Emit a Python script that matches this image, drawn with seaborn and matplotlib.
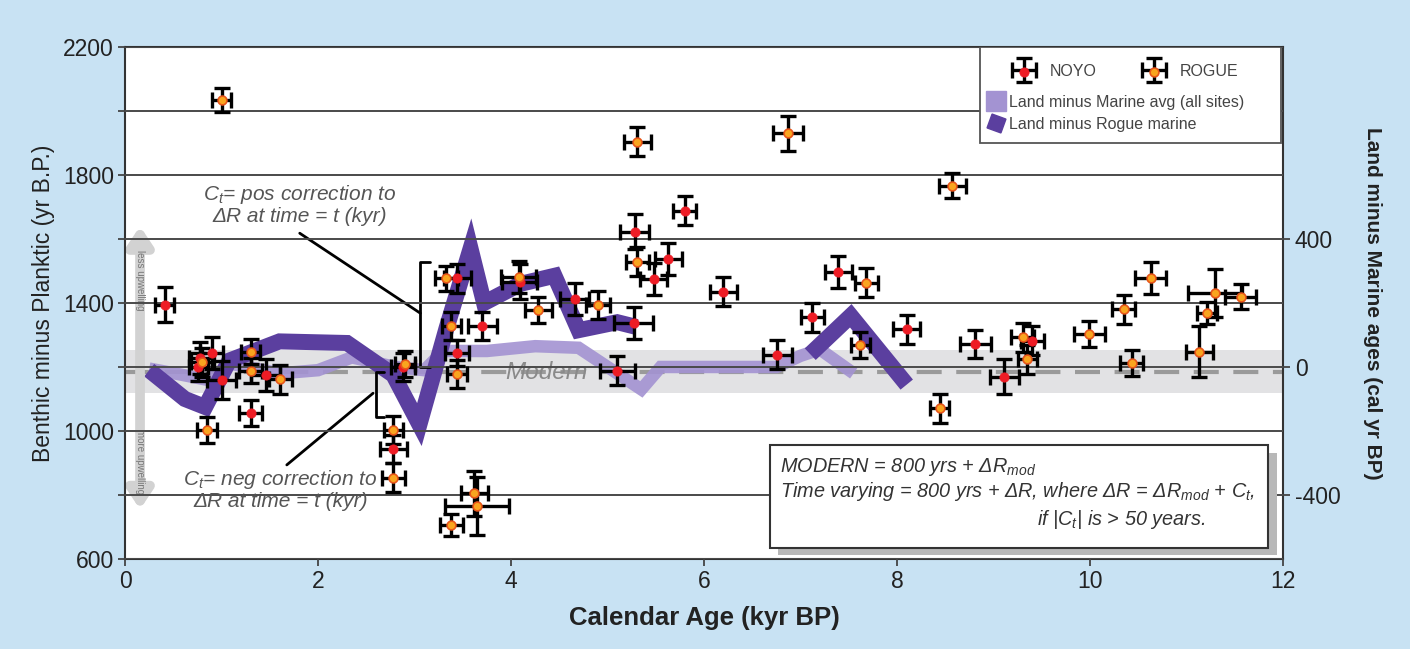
import numpy as np
import pandas as pd
import matplotlib
matplotlib.use("Agg")
import matplotlib.pyplot as plt
import seaborn as sns
from matplotlib.lines import Line2D
from matplotlib.patches import Rectangle
from matplotlib.container import ErrorbarContainer
from matplotlib.legend_handler import HandlerErrorbar
from matplotlib.ticker import MultipleLocator, FuncFormatter

# ---- data ----
# NOYO (red) : calendar age (kyr BP), benthic minus planktic (yr), errors
NOYO_AGE = [0.41, 0.78, 0.76, 0.90, 1.00, 1.30, 1.46, 2.88, 2.78, 3.44, 3.70, 3.44, 4.09, 4.66,
            5.27, 5.10, 5.28, 5.48, 5.63, 5.80, 6.20, 7.39, 7.12, 6.76, 8.10, 8.81, 9.11, 9.40]
NOYO_DIFF = [1395, 1228, 1200, 1244, 1159, 1057, 1175, 1200, 944, 1477, 1328, 1243, 1467, 1412,
             1337, 1189, 1623, 1474, 1537, 1688, 1435, 1498, 1355, 1238, 1318, 1272, 1170, 1282]
NOYO_XERR = [0.10, 0.12, 0.10, 0.12, 0.15, 0.12, 0.15, 0.12, 0.14, 0.14, 0.15, 0.12, 0.18, 0.15,
             0.20, 0.18, 0.15, 0.14, 0.14, 0.12, 0.14, 0.14, 0.12, 0.15, 0.14, 0.16, 0.15, 0.12]
NOYO_YERR = [55, 50, 45, 50, 60, 40, 50, 45, 45, 45, 45, 40, 55, 50,
             50, 45, 55, 50, 50, 45, 45, 50, 45, 45, 45, 45, 55, 45]

# ROGUE (orange)
ROGUE_AGE = [1.00, 0.85, 0.80, 1.30, 1.30, 1.61, 2.78, 2.78, 2.90, 3.33, 3.38, 3.44, 4.08, 4.28,
             4.90, 5.31, 5.31, 6.87, 3.62, 3.65, 3.38, 8.57, 7.68, 7.62, 8.44, 9.30, 9.35, 9.99,
             10.35, 10.63, 10.43, 11.29, 11.56, 11.21, 11.13]
ROGUE_DIFF = [2034, 1003, 1215, 1248, 1189, 1162, 1003, 854, 1210, 1477, 1328, 1178, 1482, 1378,
              1394, 1529, 1904, 1930, 805, 766, 706, 1767, 1464, 1269, 1071, 1293, 1224, 1303,
              1380, 1479, 1213, 1432, 1420, 1368, 1248]
ROGUE_XERR = [0.10, 0.10, 0.12, 0.10, 0.12, 0.12, 0.10, 0.12, 0.10, 0.12, 0.10, 0.10, 0.18, 0.14,
              0.12, 0.12, 0.14, 0.16, 0.14, 0.33, 0.12, 0.14, 0.12, 0.10, 0.10, 0.12, 0.10, 0.16,
              0.12, 0.16, 0.12, 0.28, 0.16, 0.10, 0.14]
ROGUE_YERR = [37, 40, 45, 40, 40, 45, 45, 45, 40, 40, 45, 45, 50, 40,
              45, 45, 45, 55, 70, 90, 35, 40, 45, 40, 45, 45, 45, 40,
              45, 50, 40, 75, 40, 35, 80]

# land minus marine ages (right axis, cal yr BP)
AVG_AGE = [0.25, 0.60, 0.85, 1.10, 1.60, 2.00, 2.35, 2.80, 3.10, 3.30, 3.75, 4.25, 4.70, 5.35,
           5.55, 6.75, 7.00, 7.20, 7.55]
AVG_DIFF = [-5, -25, -40, 10, -20, -10, 30, 0, -10, 50, 50, 65, 60, -70, 0, 0, 35, 55, -20]

ROGUE_LINE_AGE = [0.25, 0.62, 0.83, 1.08, 1.60, 2.30, 2.78, 3.05, 3.33, 3.58, 3.72, 4.10, 4.45,
                  4.70, 5.10, 5.30]
ROGUE_LINE_DIFF = [-10, -100, -125, 20, 80, 75, -25, -180, 120, 370, 200, 260, 285, 115, 140, 125]
ROGUE_LINE2_AGE = [7.10, 7.52, 8.10]
ROGUE_LINE2_DIFF = [40, 160, -55]

MODERN = 1185
MODERN_BAND = (1118, 1253)
RIGHT_OFFSET = 1200  # right axis = left axis - 1200

# colours
BG = "#c8e2f3"
RED = "#ee1c25"
ORANGE = "#f9a51f"
DARK_PURPLE = "#5b3f9f"
LIGHT_PURPLE = "#a393d2"
TXT = "#222222"

sns.set_theme(style="white")
plt.rcParams["font.family"] = ["Liberation Sans", "DejaVu Sans"]
plt.rcParams["mathtext.fontset"] = "custom"
plt.rcParams["mathtext.it"] = "Liberation Sans:italic"
plt.rcParams["mathtext.rm"] = "Liberation Sans"
plt.rcParams["axes.unicode_minus"] = False

fig = plt.figure(figsize=(14.1, 6.49), dpi=100, facecolor=BG)
ax = fig.add_axes([0.0887, 0.1387, 0.8213, 0.7889])
ax.set_facecolor("white")

# modern band + dashed line
ax.axhspan(*MODERN_BAND, color="#e2e2e4", zorder=0.5, lw=0)
ax.axhline(MODERN, color="#9a9a9a", lw=3, dashes=(6, 3.5), zorder=0.6)

# purple lines (plotted in left-axis units)
avg_df = pd.DataFrame({"age": AVG_AGE, "diff": np.array(AVG_DIFF) + RIGHT_OFFSET})
rog_df = pd.DataFrame({"age": ROGUE_LINE_AGE, "diff": np.array(ROGUE_LINE_DIFF) + RIGHT_OFFSET})
rog2_df = pd.DataFrame({"age": ROGUE_LINE2_AGE, "diff": np.array(ROGUE_LINE2_DIFF) + RIGHT_OFFSET})
sns.lineplot(data=avg_df, x="age", y="diff", ax=ax, color=LIGHT_PURPLE, lw=9, alpha=0.9,
             sort=False, zorder=1, solid_joinstyle="miter", solid_capstyle="butt")
for d in (rog_df, rog2_df):
    sns.lineplot(data=d, x="age", y="diff", ax=ax, color=DARK_PURPLE, lw=11.5, sort=False,
                 zorder=1.2, solid_joinstyle="miter", solid_capstyle="butt")

# data points with error bars
eb_kw = dict(fmt="none", ecolor="black", elinewidth=2.4, capsize=5.5, capthick=2.4, zorder=3)
eb_n = ax.errorbar(NOYO_AGE, NOYO_DIFF, xerr=NOYO_XERR, yerr=NOYO_YERR, **eb_kw)
eb_r = ax.errorbar(ROGUE_AGE, ROGUE_DIFF, xerr=ROGUE_XERR, yerr=ROGUE_YERR, **eb_kw)
sns.scatterplot(x=NOYO_AGE, y=NOYO_DIFF, ax=ax, color=RED, s=45, edgecolor=RED, linewidth=0.5,
                zorder=4)
sc_n = ax.collections[-1]
sns.scatterplot(x=ROGUE_AGE, y=ROGUE_DIFF, ax=ax, color=ORANGE, s=40, edgecolor="#e8561a",
                linewidth=1.2, zorder=4)
sc_r = ax.collections[-1]

# axes
ax.set_xlim(0, 12)
ax.set_ylim(600, 2200)
ax.yaxis.set_major_locator(MultipleLocator(200))
ax.yaxis.set_major_formatter(FuncFormatter(lambda v, p: f"{v:.0f}" if v % 400 == 200 else ""))
ax.xaxis.set_major_locator(MultipleLocator(2))
ax.grid(axis="y", color="#4a4a4a", lw=1.4, zorder=0.7)
ax.set_axisbelow(False)
ax.tick_params(axis="both", labelsize=16.5, colors="#444444", labelcolor=TXT, length=5, width=1.3,
               direction="out", left=True, bottom=True, pad=3)
for s in ax.spines.values():
    s.set_color("#333333")
    s.set_linewidth(1.5)
ax.set_xlabel("Calendar Age (kyr BP)", fontsize=18.5, fontweight="bold", color=TXT, labelpad=9)
ax.set_ylabel("Benthic minus Planktic (yr B.P.)", fontsize=16.5, color=TXT, labelpad=6)

ax2 = ax.twinx()
ax2.set_ylim(600 - RIGHT_OFFSET, 2200 - RIGHT_OFFSET)
ax2.set_yticks([-400, 0, 400])
ax2.tick_params(axis="y", labelsize=16.5, colors="#444444", labelcolor=TXT, length=5, width=1.3,
                direction="out", right=True)
ax2.grid(False)
for s in ax2.spines.values():
    s.set_visible(False)
ax2.set_ylabel("Land minus Marine ages (cal yr BP)", fontsize=15, fontweight="bold", color=TXT,
               rotation=270, labelpad=30)

# upwelling arrow
ax.annotate("", xy=(0.155, 755), xytext=(0.155, 1640),
            arrowprops=dict(arrowstyle="<|-|>,head_width=0.6,head_length=0.9", color="#d2d2d2",
                            lw=7, shrinkA=0, shrinkB=0), zorder=1.5)
ax.text(0.155, 1470, "less upwelling", rotation=270, ha="center", va="center", fontsize=7,
        color="#777777", zorder=1.6)
ax.text(0.155, 905, "more upwelling", rotation=270, ha="center", va="center", fontsize=7,
        color="#777777", zorder=1.6)

ax.text(4.37, 1182, "Modern", fontsize=17.5, style="italic", color="#8a8a8a", ha="center",
        va="center", zorder=0.8)

# correction brackets and labels
ax.plot([3.16, 3.06, 3.06, 3.16], [1528, 1528, 1200, 1200], color="black", lw=2, zorder=2.5)
ax.plot([1.81, 3.06], [1618, 1368], color="black", lw=2, zorder=2.5)
ax.plot([2.68, 2.60, 2.60, 2.68], [1185, 1185, 1045, 1045], color="black", lw=2, zorder=2.5)
ax.plot([2.57, 1.676], [1118, 894], color="black", lw=2, zorder=2.5)
ax.text(1.81, 1707, "$C_t$= pos correction to\nΔR at time = t (kyr)", ha="center", va="center",
        fontsize=15, style="italic", color="#555555", linespacing=1.05, zorder=2.6)
ax.text(1.61, 818, "$C_t$= neg correction to\nΔR at time = t (kyr)", ha="center", va="center",
        fontsize=15, style="italic", color="#555555", linespacing=1.05, zorder=2.6)

# info box
ax.add_patch(Rectangle((6.77, 612), 5.17, 320, facecolor="#b8b8b8", edgecolor="none", zorder=5))
ax.add_patch(Rectangle((6.68, 634), 5.16, 322, facecolor="white", edgecolor="#333333", lw=1.5,
                       zorder=5.1))
box_kw = dict(fontsize=14.3, style="italic", color="#333333", zorder=5.2, va="center")
ax.text(6.79, 888, "MODERN = 800 yrs + ΔR$_{mod}$", **box_kw)
ax.text(6.79, 812, "Time varying = 800 yrs + ΔR, where ΔR = ΔR$_{mod}$ + $C_t$,", **box_kw)
ax.text(9.45, 722, "if |$C_t$| is > 50 years.", **box_kw)

# legend
ax.add_patch(Rectangle((0.738, 0.8125), 0.26, 0.1875, transform=ax.transAxes,
                       facecolor="white", edgecolor="#555555", lw=1.3, zorder=5))
leg1 = ax.legend(handles=[(eb_n, sc_n), (eb_r, sc_r)], labels=["NOYO", "ROGUE"], ncol=2,
                 loc="upper left", bbox_to_anchor=(0.75, 0.995), frameon=False, fontsize=11.5,
                 labelcolor="#444444", columnspacing=2.6, handlelength=2.0, handletextpad=0.6,
                 handler_map={ErrorbarContainer: HandlerErrorbar(xerr_size=0.75)})
leg1.set_zorder(6)
ax.add_artist(leg1)
h_avg = Line2D([], [], marker="s", ls="none", color=LIGHT_PURPLE, markersize=14)
h_rog = Line2D([], [], marker=(4, 0, 25), ls="none", color=DARK_PURPLE, markersize=15)
leg2 = ax.legend(handles=[h_avg, h_rog],
                 labels=["Land minus Marine avg (all sites)", "Land minus Rogue marine"],
                 loc="upper left", bbox_to_anchor=(0.733, 0.935), frameon=False, fontsize=11.5,
                 labelcolor="#444444", handlelength=1.0, handletextpad=0.3, labelspacing=0.45)
leg2.set_zorder(6)

fig.savefig("out.png", dpi=100, facecolor=BG)
